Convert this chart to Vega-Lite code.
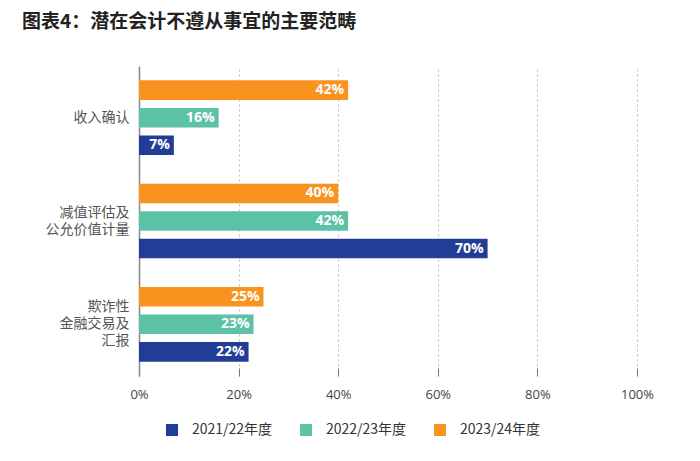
{
  "$schema": "https://vega.github.io/schema/vega-lite/v6.json",
  "autosize": {"type": "none"},
  "padding": {"left": 139, "top": 66, "right": 63, "bottom": 85},
  "width": 498,
  "height": 310,
  "background": "white",
  "config": {"view": {"stroke": null}},
  "title": {
    "text": "图表4：潜在会计不遵从事宜的主要范畴",
    "anchor": "start",
    "frame": "group",
    "dx": -117,
    "offset": 34,
    "font": "Noto Sans CJK SC",
    "fontSize": 19,
    "fontWeight": "bold",
    "color": "#222222"
  },
  "data": {
    "values": [
      {"category": "收入确认", "year": "2021/22年度", "value": 0.07},
      {"category": "收入确认", "year": "2022/23年度", "value": 0.16},
      {"category": "收入确认", "year": "2023/24年度", "value": 0.42},
      {"category": "减值评估及\n公允价值计量", "year": "2021/22年度", "value": 0.70},
      {"category": "减值评估及\n公允价值计量", "year": "2022/23年度", "value": 0.42},
      {"category": "减值评估及\n公允价值计量", "year": "2023/24年度", "value": 0.40},
      {"category": "欺诈性\n金融交易及\n汇报", "year": "2021/22年度", "value": 0.22},
      {"category": "欺诈性\n金融交易及\n汇报", "year": "2022/23年度", "value": 0.23},
      {"category": "欺诈性\n金融交易及\n汇报", "year": "2023/24年度", "value": 0.25}
    ]
  },
  "encoding": {
    "y": {
      "field": "category",
      "type": "nominal",
      "sort": ["收入确认", "减值评估及\n公允价值计量", "欺诈性\n金融交易及\n汇报"],
      "scale": {"paddingInner": 0, "paddingOuter": 0},
      "axis": {
        "title": null,
        "labelExpr": "split(datum.label, '\\n')",
        "labelFont": "Noto Sans CJK SC",
        "labelFontSize": 14,
        "labelColor": "#555555",
        "labelLineHeight": 17,
        "labelPadding": 10,
        "labelOffset": {
          "condition": [
            {"test": "indexof(datum.value, '汇报') >= 0", "value": -17},
            {"test": "indexof(datum.value, '计量') >= 0", "value": -8.5}
          ],
          "value": 0
        },
        "ticks": false,
        "domainColor": "#888888",
        "domainWidth": 1.5,
        "grid": false
      }
    },
    "yOffset": {
      "field": "year",
      "type": "nominal",
      "sort": ["2023/24年度", "2022/23年度", "2021/22年度"],
      "scale": {"paddingInner": 0.29, "paddingOuter": 0.52}
    },
    "x": {
      "field": "value",
      "type": "quantitative",
      "scale": {"domain": [0, 1], "nice": false},
      "axis": {
        "title": null,
        "values": [0, 0.2, 0.4, 0.6, 0.8, 1],
        "format": ".0%",
        "domain": false,
        "ticks": true,
        "tickSize": 8,
        "tickColor": "#777777",
        "offset": -8,
        "grid": true,
        "gridColor": "#bbbbbb",
        "gridDash": [2, 3],
        "labelFlush": false,
        "labelFont": "Open Sans",
        "labelFontSize": 13,
        "labelColor": "#444444",
        "labelPadding": 12
      }
    }
  },
  "layer": [
    {
      "mark": {"type": "bar"},
      "encoding": {
        "color": {
          "field": "year",
          "type": "nominal",
          "scale": {
            "domain": ["2021/22年度", "2022/23年度", "2023/24年度"],
            "range": ["#213D96", "#5CC2A7", "#F7931E"]
          },
          "legend": {
            "title": null,
            "orient": "none",
            "direction": "horizontal",
            "legendX": 26,
            "legendY": 357,
            "padding": 0,
            "symbolType": "square",
            "symbolSize": 144,
            "symbolStrokeWidth": 0,
            "symbolOpacity": 1,
            "labelFont": "Noto Sans CJK SC",
            "labelFontSize": 14,
            "labelColor": "#333333",
            "labelOffset": 13,
            "columnPadding": 26
          }
        }
      }
    },
    {
      "mark": {"type": "text", "align": "right", "dx": -4, "baseline": "middle", "color": "white", "font": "Open Sans", "fontSize": 14, "fontWeight": "bold"},
      "encoding": {
        "text": {"field": "value", "type": "quantitative", "format": ".0%"}
      }
    }
  ]
}
